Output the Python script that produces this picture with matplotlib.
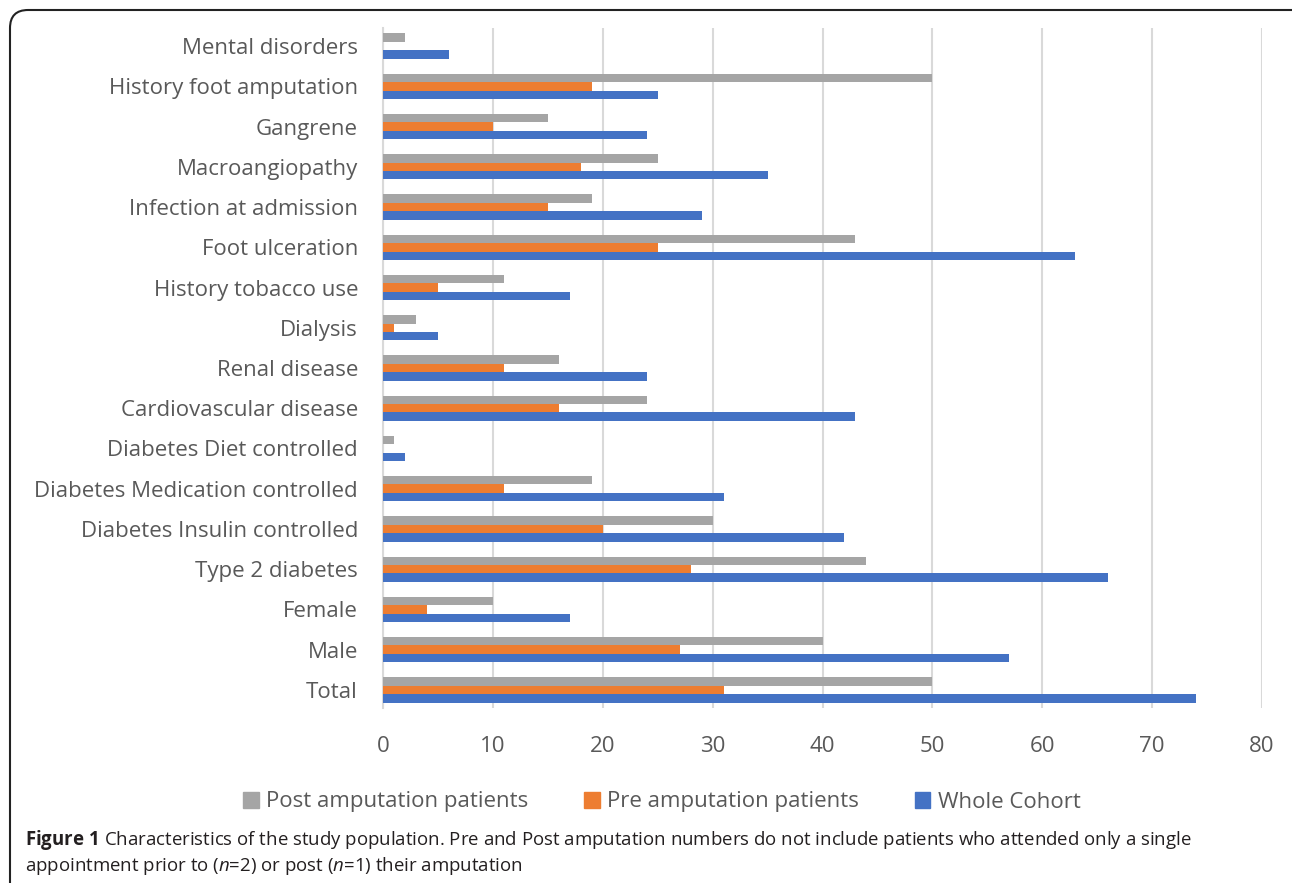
import matplotlib
matplotlib.use('Agg')
import matplotlib.pyplot as plt
from matplotlib.patches import Patch, FancyBboxPatch
import numpy as np

plt.rcParams['font.family'] = ['Open Sans', 'DejaVu Sans']
plt.rcParams['mathtext.fontset'] = 'custom'
plt.rcParams['mathtext.rm'] = 'Open Sans'
plt.rcParams['mathtext.it'] = 'Open Sans:italic'
plt.rcParams['mathtext.bf'] = 'Open Sans:bold'

# bottom to top
categories = ['Total', 'Male', 'Female', 'Type 2 diabetes', 'Diabetes Insulin controlled',
              'Diabetes Medication controlled', 'Diabetes Diet controlled',
              'Cardiovascular disease', 'Renal disease', 'Dialysis', 'History tobacco use',
              'Foot ulceration', 'Infection at admission', 'Macroangiopathy', 'Gangrene',
              'History foot amputation', 'Mental disorders']
whole_cohort = [74, 57, 17, 66, 42, 31, 2, 43, 24, 5, 17, 63, 29, 35, 24, 25, 6]
pre_amp = [31, 27, 4, 28, 20, 11, 0, 16, 11, 1, 5, 25, 15, 18, 10, 19, 0]
post_amp = [50, 40, 10, 44, 30, 19, 1, 24, 16, 3, 11, 43, 19, 25, 15, 50, 2]

c_blue = '#4472C4'
c_orange = '#ED7D31'
c_gray = '#A5A5A5'
txt = '#595959'

fig = plt.figure(figsize=(12.92, 8.83), dpi=100)
ax = fig.add_axes([383/1292, 1-708/883, 879/1292, 680/883])

y = np.arange(len(categories))
h = 0.21
ax.barh(y - h, whole_cohort, h, color=c_blue, label='Whole Cohort', zorder=3)
ax.barh(y, pre_amp, h, color=c_orange, label='Pre amputation patients', zorder=3)
ax.barh(y + h, post_amp, h, color=c_gray, label='Post amputation patients', zorder=3)

ax.set_xlim(0, 80)
ax.set_ylim(-0.45, 16.45)
ax.set_xticks(range(0, 81, 10))
ax.set_yticks(y)
ax.set_yticklabels(categories)
ax.grid(axis='x', color='#d9d9d9', linewidth=1.5, zorder=0)
for s in ['top', 'right', 'bottom']:
    ax.spines[s].set_visible(False)
ax.spines['left'].set_color('#d9d9d9')
ax.spines['left'].set_linewidth(1.5)
ax.tick_params(axis='y', length=0, pad=18, labelsize=16, labelcolor=txt)
ax.tick_params(axis='x', length=0, pad=20, labelsize=16, labelcolor=txt)

handles = [Patch(color=c_gray), Patch(color=c_orange), Patch(color=c_blue)]
labels = ['Post amputation patients', 'Pre amputation patients', 'Whole Cohort']
leg = fig.legend(handles, labels, loc='center', bbox_to_anchor=(662/1292, 1-802/883), ncol=3,
                 frameon=False, fontsize=16, handlelength=0.7, handleheight=0.7,
                 handletextpad=0.35, columnspacing=2.5)
for t in leg.get_texts():
    t.set_color(txt)

cap = '#231f20'
fig.text(25/1292, 1-840/883,
         r'$\mathbf{Figure\ 1}$ Characteristics of the study population. Pre and Post amputation numbers '
         'do not include patients who attended only a single',
         fontsize=13.4, color=cap, va='center', ha='left')
fig.text(25/1292, 1-866/883, r'appointment prior to ($n$=2) or post ($n$=1) their amputation',
         fontsize=13.4, color=cap, va='center', ha='left')

box = FancyBboxPatch((10/1292, -0.1), 1.2, 1.1 - 10/883, transform=fig.transFigure,
                     boxstyle='round,pad=0,rounding_size=0.014', fill=False,
                     edgecolor='#222222', linewidth=1.5, mutation_aspect=1292/883)
fig.patches.append(box)

fig.savefig('out.png', dpi=100)
